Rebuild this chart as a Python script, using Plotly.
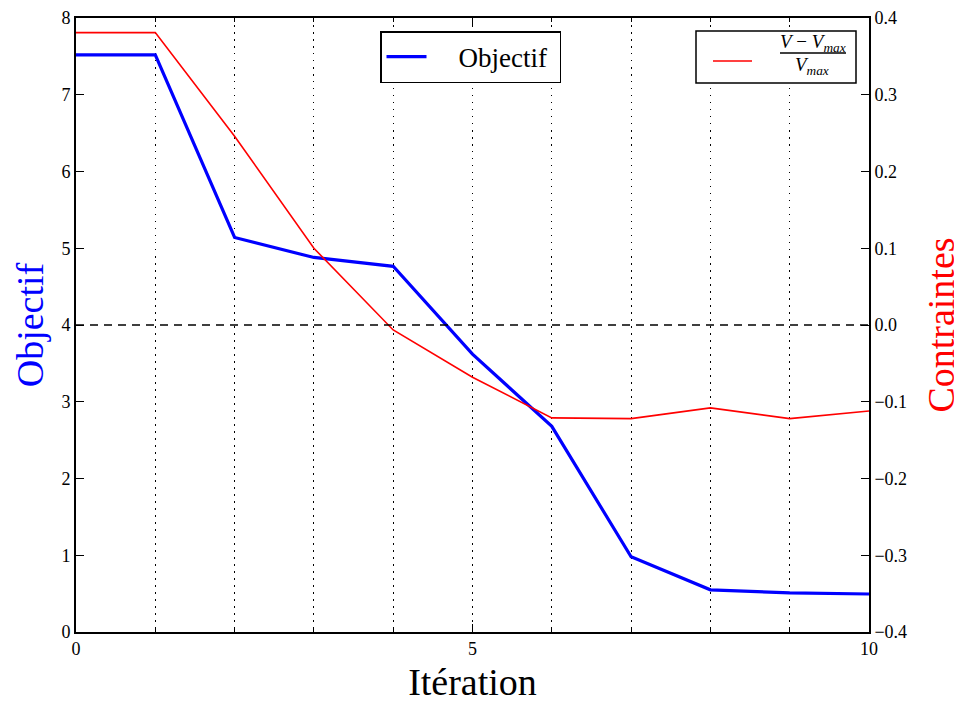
import plotly.graph_objects as go

iterations = [0, 1, 2, 3, 4, 5, 6, 7, 8, 9, 10]
objectif = [7.52, 7.52, 5.14, 4.88, 4.765, 3.62, 2.68, 0.98, 0.55, 0.51, 0.495]
contrainte = [0.381, 0.381, 0.246, 0.100, -0.0065, -0.068, -0.121, -0.122, -0.108, -0.122, -0.112]
left_ticks = [0, 1, 2, 3, 4, 5, 6, 7, 8]
right_ticks = [-0.4, -0.3, -0.2, -0.1, 0.0, 0.1, 0.2, 0.3, 0.4]
x_ticks = [0, 5, 10]

# page body has an 8px margin: compensate so the plot area lands at the target pixels
OFF = 8
W, H = 962 - OFF, 703 - OFF
L, R, T, B = 76, 869, 18, 632
FONT = "Liberation Serif"


def px(x):
    return (x - L) / (R - L)


def py(y):
    return (B - y) / (B - T)


fig = go.Figure()
fig.add_trace(go.Scatter(x=iterations, y=objectif, mode="lines",
                         name="\u00a0\u00a0\u00a0\u00a0Objectif\u00a0",
                         line=dict(color="#0000ff", width=3.2), yaxis="y", showlegend=True))
fig.add_trace(go.Scatter(x=iterations, y=contrainte, mode="lines", name="contrainte",
                         line=dict(color="#ff0000", width=1.6), yaxis="y2", showlegend=False))

shapes = [
    dict(type="line", xref="paper", yref="y2", x0=0, x1=1, y0=0, y1=0,
         line=dict(color="black", width=1.6, dash="8px,6px"), layer="above"),
    dict(type="rect", xref="paper", yref="paper", x0=px(696), x1=px(856), y0=py(83), y1=py(31),
         line=dict(color="black", width=1.5), fillcolor="white", layer="above"),
    dict(type="line", xref="paper", yref="paper", x0=px(713), x1=px(752), y0=py(61), y1=py(61),
         line=dict(color="#ff0000", width=1.6), layer="above"),
    dict(type="line", xref="paper", yref="paper", x0=px(780), x1=px(846), y0=py(53), y1=py(53),
         line=dict(color="black", width=1.5), layer="above"),
]

annotations = [
    dict(xref="paper", yref="paper", x=px(813), y=py(43), text="<i>V</i> − <i>V</i><sub><i>max</i></sub>",
         showarrow=False, font=dict(family=FONT, size=19, color="black"), xanchor="center", yanchor="middle"),
    dict(xref="paper", yref="paper", x=px(812), y=py(66), text="<i>V</i><sub><i>max</i></sub>",
         showarrow=False, font=dict(family=FONT, size=19, color="black"), xanchor="center", yanchor="middle"),
]

grid_dash = "1.5px,5.5px"

fig.update_layout(
    width=W, height=H,
    margin=dict(l=L - OFF, r=W - (R - OFF), t=T - OFF, b=H - (B - OFF), autoexpand=False),
    paper_bgcolor="white", plot_bgcolor="white",
    font=dict(family=FONT, size=18, color="black"),
    showlegend=True,
    legend=dict(x=px(380), y=py(31), xanchor="left", yanchor="top",
                bordercolor="black", borderwidth=1.5, bgcolor="white",
                font=dict(family=FONT, size=27, color="black"), itemwidth=40,
                tracegroupgap=0),
    xaxis=dict(range=[0, 10], tickvals=x_ticks, ticks="inside", ticklen=8, tickwidth=1,
               tickcolor="black", showline=True, linecolor="black", linewidth=1.6, mirror="ticks",
               showgrid=True, gridcolor="black", gridwidth=1, griddash=grid_dash, zeroline=False,
               minor=dict(dtick=1, ticks="inside", ticklen=4, tickcolor="black", showgrid=True,
                          gridcolor="black", gridwidth=1, griddash=grid_dash),
               title=dict(text="Itération", font=dict(family=FONT, size=38, color="black"), standoff=12),
               tickfont=dict(family=FONT, size=18)),
    yaxis=dict(range=[0, 8], tickvals=left_ticks, ticks="inside", ticklen=8, tickcolor="black",
               showline=True, linecolor="black", linewidth=1.6, showgrid=False, zeroline=False,
               title=dict(text="Objectif", font=dict(family=FONT, size=38, color="#0000ff"), standoff=6),
               tickfont=dict(family=FONT, size=18)),
    yaxis2=dict(range=[-0.4, 0.4], tickvals=right_ticks, tickformat=".1f", overlaying="y", side="right",
                ticks="inside", ticklen=8, tickcolor="black", showline=True, linecolor="black",
                linewidth=1.6, showgrid=False, zeroline=False,
                title=dict(text="Contraintes", font=dict(family=FONT, size=38, color="#ff0000"), standoff=22),
                tickfont=dict(family=FONT, size=18)),
    shapes=shapes,
    annotations=annotations,
)

fig.write_html("out.html")
